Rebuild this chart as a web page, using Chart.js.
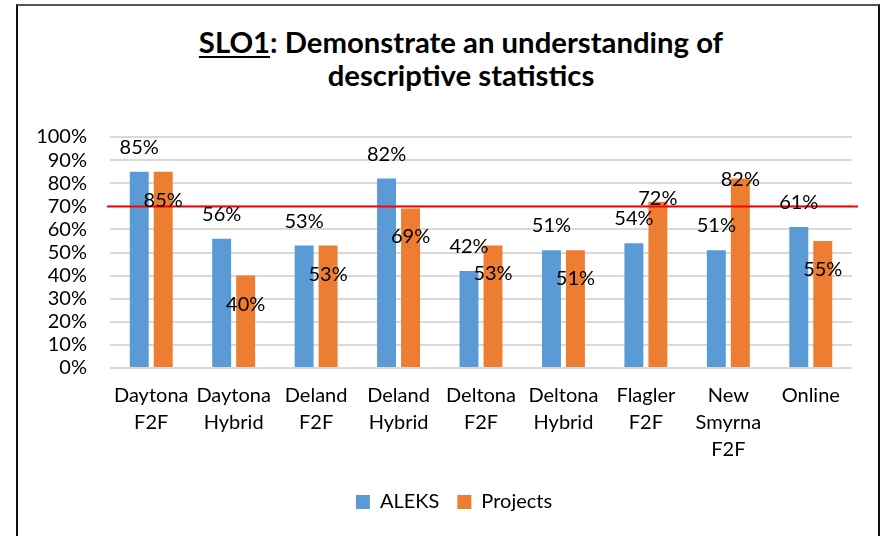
<!DOCTYPE html>
<html>
<head>
<meta charset="utf-8">
<script src="https://cdn.jsdelivr.net/npm/chart.js@4.4.1/dist/chart.umd.min.js"></script>
<style>
  html, body { margin: 0; padding: 0; background: #fff; overflow: hidden; }
  #wrap { position: relative; width: 881px; height: 536px; }
  #frame {
    position: absolute; left: 16px; top: 4px; width: 860px; height: 600px;
    border: 2px solid #111; border-top-color: #555;
  }
  #title {
    position: absolute; left: 0; top: 25px; width: 840px; padding-left: 41px;
    text-align: center; font-family: Lato, sans-serif; font-weight: bold;
    font-size: 29.3px; line-height: 33px; color: #000;
  }
  #title u { text-underline-offset: 3px; text-decoration-thickness: 2px; }
  canvas { position: absolute; left: 0; top: 0; }
</style>
</head>
<body>
<div id="wrap">
  <div id="frame"></div>
  <div id="title"><u>SLO1</u>: Demonstrate an understanding of<br>descriptive statistics</div>
  <canvas id="sloChart" width="881" height="536"></canvas>
</div>
<script>
// Kategori kampus / format kelas
const campuses = [
  ["Daytona", "F2F"], ["Daytona", "Hybrid"], ["Deland", "F2F"], ["Deland", "Hybrid"],
  ["Deltona", "F2F"], ["Deltona", "Hybrid"], ["Flagler", "F2F"], ["New", "Smyrna", "F2F"], ["Online"]
];

// Nilai (persen)
const aleksValues = [85, 56, 53, 82, 42, 51, 54, 51, 61];
const projectValues = [85, 40, 53, 69, 53, 51, 72, 82, 55];

// Garis target
const targetValue = 70;

// Label sumbu Y
const yTicks = [0, 10, 20, 30, 40, 50, 60, 70, 80, 90, 100];

// Geser label data (px, relatif ke puncak batang) - seperti di Excel aslinya
const aleksLabelShift = [-24.5, -24.5, -24.5, -24.5, -24.5, -24.5, -24.5, -24.5, -24.5];
const projectLabelShift = [28.5, 29, 29, 28, 28, 28, -3, 1, 29];

const FONT = "Lato, sans-serif";

// Plugin: garis merah target
const targetLine = {
  id: "targetLine",
  afterDatasetsDraw(chart) {
    const { ctx, chartArea, scales } = chart;
    const y = Math.round(scales.y.getPixelForValue(targetValue)) + 0.5;
    ctx.save();
    ctx.strokeStyle = "#ff0000";
    ctx.lineWidth = 2;
    ctx.beginPath();
    ctx.moveTo(chartArea.left - 3, y);
    ctx.lineTo(chartArea.right + 6, y);
    ctx.stroke();
    ctx.restore();
  },
};

// Plugin: label persen di atas/bawah batang
const valueLabels = {
  id: "valueLabels",
  afterDraw(chart) {
    const { ctx } = chart;
    const shifts = [aleksLabelShift, projectLabelShift];
    ctx.save();
    ctx.font = "20px " + FONT;
    ctx.fillStyle = "#000";
    ctx.textAlign = "center";
    ctx.textBaseline = "middle";
    chart.data.datasets.forEach((ds, di) => {
      chart.getDatasetMeta(di).data.forEach((bar, i) => {
        ctx.fillText(ds.data[i] + "%", bar.x, bar.y + shifts[di][i]);
      });
    });
    ctx.restore();
  },
};

// Plugin: geser legend sedikit ke kanan (tengah area plot versi Excel)
const legendShift = {
  id: "legendShift",
  afterLayout(chart) {
    chart.legend.left += 20;
    chart.legend.right += 20;
  },
};

const ctx = document.getElementById("sloChart").getContext("2d");

new Chart(ctx, {
  type: "bar",
  data: {
    labels: campuses,
    datasets: [
      {
        label: "ALEKS",
        data: aleksValues,
        backgroundColor: "#5b9bd5",
        barPercentage: 0.79,
        categoryPercentage: 0.582,
      },
      {
        label: "Projects",
        data: projectValues,
        backgroundColor: "#ed7d31",
        barPercentage: 0.79,
        categoryPercentage: 0.582,
      },
    ],
  },
  options: {
    responsive: false,
    animation: false,
    devicePixelRatio: 1,
    layout: { padding: { left: 16, right: 29, top: 137, bottom: 14 } },
    plugins: {
      title: { display: false },
      tooltip: { enabled: false },
      legend: {
        position: "bottom",
        labels: {
          color: "#000",
          font: { family: FONT, size: 20 },
          boxWidth: 14,
          boxHeight: 14,
          padding: 18,
        },
      },
    },
    scales: {
      x: {
        grid: { display: false, drawTicks: false },
        border: { display: false },
        ticks: {
          color: "#000",
          font: { family: FONT, size: 20, lineHeight: 1.35 },
          padding: 14,
          maxRotation: 0,
          autoSkip: false,
        },
        afterFit(scale) {
          scale.height = 106;
        },
      },
      y: {
        min: 0,
        max: 100,
        afterBuildTicks(scale) {
          scale.ticks = yTicks.map((v) => ({ value: v }));
        },
        grid: { color: "#d9d9d9", lineWidth: 2, drawTicks: false },
        border: { display: false },
        ticks: {
          color: "#000",
          font: { family: FONT, size: 20 },
          padding: 23,
          autoSkip: false,
          callback: (v) => v + "%",
        },
        afterFit(scale) {
          scale.width = 94;
        },
      },
    },
  },
  plugins: [targetLine, valueLabels, legendShift],
});
</script>
</body>
</html>
